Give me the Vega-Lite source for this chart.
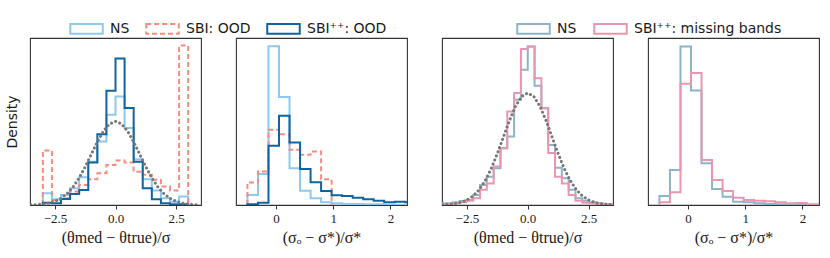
{
  "$schema": "https://vega.github.io/schema/vega-lite/v6.json",
  "padding": {"left": 4, "top": 10, "right": 6, "bottom": 4},
  "bounds": "flush",
  "spacing": 35,
  "config": {
    "view": {"stroke": "#333333", "strokeWidth": 1.1},
    "axis": {"grid": false, "domain": false, "labelFontSize": 13, "labelColor": "#1a1a1a", "titleFontSize": 16, "titleFontWeight": "normal", "titleColor": "#1a1a1a", "tickColor": "#333333", "tickSize": 4, "tickWidth": 1, "labelPadding": 3, "titlePadding": 4}
  },
  "datasets": {
    "norm": [
      {"x": -3.5, "y": 0.0009}, {"x": -3.25, "y": 0.0020}, {"x": -3.0, "y": 0.0044}, {"x": -2.75, "y": 0.0091},
      {"x": -2.5, "y": 0.0175}, {"x": -2.25, "y": 0.0317}, {"x": -2.0, "y": 0.0540}, {"x": -1.75, "y": 0.0863},
      {"x": -1.5, "y": 0.1295}, {"x": -1.25, "y": 0.1826}, {"x": -1.0, "y": 0.2420}, {"x": -0.75, "y": 0.3011},
      {"x": -0.5, "y": 0.3521}, {"x": -0.25, "y": 0.3867}, {"x": 0.0, "y": 0.3989}, {"x": 0.25, "y": 0.3867},
      {"x": 0.5, "y": 0.3521}, {"x": 0.75, "y": 0.3011}, {"x": 1.0, "y": 0.2420}, {"x": 1.25, "y": 0.1826},
      {"x": 1.5, "y": 0.1295}, {"x": 1.75, "y": 0.0863}, {"x": 2.0, "y": 0.0540}, {"x": 2.25, "y": 0.0317},
      {"x": 2.5, "y": 0.0175}, {"x": 2.75, "y": 0.0091}, {"x": 3.0, "y": 0.0044}, {"x": 3.25, "y": 0.0020}, {"x": 3.5, "y": 0.0009}
    ],
    "p1": [
      {"s": "NS", "x": -3, "y": 0}, {"s": "NS", "x": -3, "y": 0.056}, {"s": "NS", "x": -2.625, "y": 0.027}, {"s": "NS", "x": -2.25, "y": 0.048},
      {"s": "NS", "x": -1.875, "y": 0.080}, {"s": "NS", "x": -1.5, "y": 0.132}, {"s": "NS", "x": -1.125, "y": 0.207}, {"s": "NS", "x": -0.75, "y": 0.303},
      {"s": "NS", "x": -0.375, "y": 0.431}, {"s": "NS", "x": 0, "y": 0.518}, {"s": "NS", "x": 0.375, "y": 0.367}, {"s": "NS", "x": 0.75, "y": 0.218},
      {"s": "NS", "x": 1.125, "y": 0.123}, {"s": "NS", "x": 1.5, "y": 0.069}, {"s": "NS", "x": 1.875, "y": 0.032}, {"s": "NS", "x": 2.25, "y": 0.016},
      {"s": "NS", "x": 2.625, "y": 0.040}, {"s": "NS", "x": 3, "y": 0},
      {"s": "SBI: OOD", "x": -3, "y": 0}, {"s": "SBI: OOD", "x": -3, "y": 0.260}, {"s": "SBI: OOD", "x": -2.625, "y": 0.024}, {"s": "SBI: OOD", "x": -2.25, "y": 0.032},
      {"s": "SBI: OOD", "x": -1.875, "y": 0.064}, {"s": "SBI: OOD", "x": -1.5, "y": 0.096}, {"s": "SBI: OOD", "x": -1.125, "y": 0.123}, {"s": "SBI: OOD", "x": -0.75, "y": 0.152},
      {"s": "SBI: OOD", "x": -0.375, "y": 0.191}, {"s": "SBI: OOD", "x": 0, "y": 0.212}, {"s": "SBI: OOD", "x": 0.375, "y": 0.203}, {"s": "SBI: OOD", "x": 0.75, "y": 0.159},
      {"s": "SBI: OOD", "x": 1.125, "y": 0.144}, {"s": "SBI: OOD", "x": 1.5, "y": 0.120}, {"s": "SBI: OOD", "x": 1.875, "y": 0.088}, {"s": "SBI: OOD", "x": 2.25, "y": 0.069},
      {"s": "SBI: OOD", "x": 2.625, "y": 0.761}, {"s": "SBI: OOD", "x": 3, "y": 0},
      {"s": "SBI⁺⁺: OOD", "x": -3, "y": 0}, {"s": "SBI⁺⁺: OOD", "x": -3, "y": 0.011}, {"s": "SBI⁺⁺: OOD", "x": -2.625, "y": 0.008}, {"s": "SBI⁺⁺: OOD", "x": -2.25, "y": 0.029},
      {"s": "SBI⁺⁺: OOD", "x": -1.875, "y": 0.053}, {"s": "SBI⁺⁺: OOD", "x": -1.5, "y": 0.072}, {"s": "SBI⁺⁺: OOD", "x": -1.125, "y": 0.203}, {"s": "SBI⁺⁺: OOD", "x": -0.75, "y": 0.338},
      {"s": "SBI⁺⁺: OOD", "x": -0.375, "y": 0.545}, {"s": "SBI⁺⁺: OOD", "x": 0, "y": 0.699}, {"s": "SBI⁺⁺: OOD", "x": 0.375, "y": 0.463}, {"s": "SBI⁺⁺: OOD", "x": 0.75, "y": 0.207},
      {"s": "SBI⁺⁺: OOD", "x": 1.125, "y": 0.080}, {"s": "SBI⁺⁺: OOD", "x": 1.5, "y": 0.027}, {"s": "SBI⁺⁺: OOD", "x": 1.875, "y": 0.008}, {"s": "SBI⁺⁺: OOD", "x": 2.25, "y": 0.003},
      {"s": "SBI⁺⁺: OOD", "x": 2.625, "y": 0.003}, {"s": "SBI⁺⁺: OOD", "x": 3, "y": 0}
    ],
    "p2": [
      {"s": "NS", "x": -0.5, "y": 0}, {"s": "NS", "x": -0.5, "y": 0.145}, {"s": "NS", "x": -0.316, "y": 0.448}, {"s": "NS", "x": -0.132, "y": 2.288},
      {"s": "NS", "x": 0.052, "y": 1.556}, {"s": "NS", "x": 0.236, "y": 0.530}, {"s": "NS", "x": 0.42, "y": 0.207}, {"s": "NS", "x": 0.604, "y": 0.096},
      {"s": "NS", "x": 0.788, "y": 0.039}, {"s": "NS", "x": 0.972, "y": 0.024}, {"s": "NS", "x": 1.156, "y": 0.014}, {"s": "NS", "x": 1.34, "y": 0.014},
      {"s": "NS", "x": 1.524, "y": 0.010}, {"s": "NS", "x": 1.708, "y": 0.010}, {"s": "NS", "x": 1.892, "y": 0.005}, {"s": "NS", "x": 2.076, "y": 0.005},
      {"s": "NS", "x": 2.26, "y": 0.005}, {"s": "NS", "x": 2.444, "y": 0},
      {"s": "SBI: OOD", "x": -0.5, "y": 0}, {"s": "SBI: OOD", "x": -0.5, "y": 0.323}, {"s": "SBI: OOD", "x": -0.316, "y": 0.482}, {"s": "SBI: OOD", "x": -0.132, "y": 1.084},
      {"s": "SBI: OOD", "x": 0.052, "y": 1.021}, {"s": "SBI: OOD", "x": 0.236, "y": 0.795}, {"s": "SBI: OOD", "x": 0.42, "y": 0.723}, {"s": "SBI: OOD", "x": 0.604, "y": 0.771},
      {"s": "SBI: OOD", "x": 0.788, "y": 0.371}, {"s": "SBI: OOD", "x": 0.972, "y": 0},
      {"s": "SBI⁺⁺: OOD", "x": -0.5, "y": 0}, {"s": "SBI⁺⁺: OOD", "x": -0.5, "y": 0.010}, {"s": "SBI⁺⁺: OOD", "x": -0.316, "y": 0.034}, {"s": "SBI⁺⁺: OOD", "x": -0.132, "y": 0.853},
      {"s": "SBI⁺⁺: OOD", "x": 0.052, "y": 1.286}, {"s": "SBI⁺⁺: OOD", "x": 0.236, "y": 0.901}, {"s": "SBI⁺⁺: OOD", "x": 0.42, "y": 0.520}, {"s": "SBI⁺⁺: OOD", "x": 0.604, "y": 0.328},
      {"s": "SBI⁺⁺: OOD", "x": 0.788, "y": 0.202}, {"s": "SBI⁺⁺: OOD", "x": 0.972, "y": 0.140}, {"s": "SBI⁺⁺: OOD", "x": 1.156, "y": 0.130}, {"s": "SBI⁺⁺: OOD", "x": 1.34, "y": 0.106},
      {"s": "SBI⁺⁺: OOD", "x": 1.524, "y": 0.082}, {"s": "SBI⁺⁺: OOD", "x": 1.708, "y": 0.063}, {"s": "SBI⁺⁺: OOD", "x": 1.892, "y": 0.039}, {"s": "SBI⁺⁺: OOD", "x": 2.076, "y": 0.048},
      {"s": "SBI⁺⁺: OOD", "x": 2.26, "y": 0.039}, {"s": "SBI⁺⁺: OOD", "x": 2.444, "y": 0}
    ],
    "p3": [
      {"s": "NS", "x": -3.64, "y": 0}, {"s": "NS", "x": -3.64, "y": 0.006}, {"s": "NS", "x": -3.36, "y": 0.006}, {"s": "NS", "x": -3.08, "y": 0.010},
      {"s": "NS", "x": -2.80, "y": 0.014}, {"s": "NS", "x": -2.52, "y": 0.018}, {"s": "NS", "x": -2.24, "y": 0.036}, {"s": "NS", "x": -1.96, "y": 0.071},
      {"s": "NS", "x": -1.68, "y": 0.101}, {"s": "NS", "x": -1.40, "y": 0.131}, {"s": "NS", "x": -1.12, "y": 0.202}, {"s": "NS", "x": -0.84, "y": 0.244},
      {"s": "NS", "x": -0.56, "y": 0.375}, {"s": "NS", "x": -0.28, "y": 0.482}, {"s": "NS", "x": 0, "y": 0.565}, {"s": "NS", "x": 0.28, "y": 0.425},
      {"s": "NS", "x": 0.56, "y": 0.345}, {"s": "NS", "x": 0.84, "y": 0.214}, {"s": "NS", "x": 1.12, "y": 0.133}, {"s": "NS", "x": 1.40, "y": 0.095},
      {"s": "NS", "x": 1.68, "y": 0.054}, {"s": "NS", "x": 1.96, "y": 0.024}, {"s": "NS", "x": 2.24, "y": 0.015}, {"s": "NS", "x": 2.52, "y": 0.010},
      {"s": "NS", "x": 2.80, "y": 0.006}, {"s": "NS", "x": 3.08, "y": 0.004}, {"s": "NS", "x": 3.36, "y": 0.002}, {"s": "NS", "x": 3.64, "y": 0},
      {"s": "SBI⁺⁺: missing bands", "x": -3.64, "y": 0}, {"s": "SBI⁺⁺: missing bands", "x": -3.64, "y": 0.002}, {"s": "SBI⁺⁺: missing bands", "x": -3.36, "y": 0.004}, {"s": "SBI⁺⁺: missing bands", "x": -3.08, "y": 0.006},
      {"s": "SBI⁺⁺: missing bands", "x": -2.80, "y": 0.010}, {"s": "SBI⁺⁺: missing bands", "x": -2.52, "y": 0.015}, {"s": "SBI⁺⁺: missing bands", "x": -2.24, "y": 0.024}, {"s": "SBI⁺⁺: missing bands", "x": -1.96, "y": 0.054},
      {"s": "SBI⁺⁺: missing bands", "x": -1.68, "y": 0.077}, {"s": "SBI⁺⁺: missing bands", "x": -1.40, "y": 0.137}, {"s": "SBI⁺⁺: missing bands", "x": -1.12, "y": 0.202}, {"s": "SBI⁺⁺: missing bands", "x": -0.84, "y": 0.333},
      {"s": "SBI⁺⁺: missing bands", "x": -0.56, "y": 0.399}, {"s": "SBI⁺⁺: missing bands", "x": -0.28, "y": 0.556}, {"s": "SBI⁺⁺: missing bands", "x": 0, "y": 0.565}, {"s": "SBI⁺⁺: missing bands", "x": 0.28, "y": 0.452},
      {"s": "SBI⁺⁺: missing bands", "x": 0.56, "y": 0.345}, {"s": "SBI⁺⁺: missing bands", "x": 0.84, "y": 0.185}, {"s": "SBI⁺⁺: missing bands", "x": 1.12, "y": 0.101}, {"s": "SBI⁺⁺: missing bands", "x": 1.40, "y": 0.077},
      {"s": "SBI⁺⁺: missing bands", "x": 1.68, "y": 0.036}, {"s": "SBI⁺⁺: missing bands", "x": 1.96, "y": 0.015}, {"s": "SBI⁺⁺: missing bands", "x": 2.24, "y": 0.008}, {"s": "SBI⁺⁺: missing bands", "x": 2.52, "y": 0.006},
      {"s": "SBI⁺⁺: missing bands", "x": 2.80, "y": 0.004}, {"s": "SBI⁺⁺: missing bands", "x": 3.08, "y": 0.002}, {"s": "SBI⁺⁺: missing bands", "x": 3.36, "y": 0.001}, {"s": "SBI⁺⁺: missing bands", "x": 3.64, "y": 0}
    ],
    "p4": [
      {"s": "NS", "x": -0.5, "y": 0}, {"s": "NS", "x": -0.5, "y": 0.126}, {"s": "NS", "x": -0.316, "y": 0.488}, {"s": "NS", "x": -0.132, "y": 2.209},
      {"s": "NS", "x": 0.052, "y": 1.595}, {"s": "NS", "x": 0.236, "y": 0.581}, {"s": "NS", "x": 0.42, "y": 0.223}, {"s": "NS", "x": 0.604, "y": 0.116},
      {"s": "NS", "x": 0.788, "y": 0.047}, {"s": "NS", "x": 0.972, "y": 0.037}, {"s": "NS", "x": 1.156, "y": 0.023}, {"s": "NS", "x": 1.34, "y": 0.014},
      {"s": "NS", "x": 1.524, "y": 0.009}, {"s": "NS", "x": 1.708, "y": 0.009}, {"s": "NS", "x": 1.892, "y": 0.009}, {"s": "NS", "x": 2.076, "y": 0.005},
      {"s": "NS", "x": 2.26, "y": 0.005}, {"s": "NS", "x": 2.444, "y": 0},
      {"s": "SBI⁺⁺: missing bands", "x": -0.5, "y": 0}, {"s": "SBI⁺⁺: missing bands", "x": -0.5, "y": 0.037}, {"s": "SBI⁺⁺: missing bands", "x": -0.316, "y": 0.177}, {"s": "SBI⁺⁺: missing bands", "x": -0.132, "y": 1.688},
      {"s": "SBI⁺⁺: missing bands", "x": 0.052, "y": 1.837}, {"s": "SBI⁺⁺: missing bands", "x": 0.236, "y": 0.628}, {"s": "SBI⁺⁺: missing bands", "x": 0.42, "y": 0.349}, {"s": "SBI⁺⁺: missing bands", "x": 0.604, "y": 0.195},
      {"s": "SBI⁺⁺: missing bands", "x": 0.788, "y": 0.102}, {"s": "SBI⁺⁺: missing bands", "x": 0.972, "y": 0.070}, {"s": "SBI⁺⁺: missing bands", "x": 1.156, "y": 0.060}, {"s": "SBI⁺⁺: missing bands", "x": 1.34, "y": 0.051},
      {"s": "SBI⁺⁺: missing bands", "x": 1.524, "y": 0.037}, {"s": "SBI⁺⁺: missing bands", "x": 1.708, "y": 0.023}, {"s": "SBI⁺⁺: missing bands", "x": 1.892, "y": 0.028}, {"s": "SBI⁺⁺: missing bands", "x": 2.076, "y": 0.009},
      {"s": "SBI⁺⁺: missing bands", "x": 2.26, "y": 0.009}, {"s": "SBI⁺⁺: missing bands", "x": 2.444, "y": 0}
    ]
  },
  "resolve": {
    "scale": {"x": "independent", "y": "independent", "color": "independent", "strokeDash": "independent"},
    "legend": {"color": "independent", "strokeDash": "independent"}
  },
  "hconcat": [
    {
      "width": 171, "height": 167,
      "layer": [
        {
          "data": {"name": "p1"},
          "mark": {"type": "line", "interpolate": "step-after", "strokeWidth": 2, "clip": true},
          "encoding": {
            "x": {"field": "x", "type": "quantitative", "scale": {"domain": [-3.53, 3.53], "nice": false, "zero": false},
                  "axis": {"values": [-2.5, 0, 2.5], "format": ".1f", "title": "(θmed − θtrue)/σ", "labelFont": "Liberation Serif", "titleFont": "Liberation Serif"}},
            "y": {"field": "y", "type": "quantitative", "scale": {"domain": [0, 0.797], "nice": false},
                  "axis": {"title": "Density", "labels": false, "ticks": false, "titleFont": "DejaVu Sans", "titleFontSize": 14, "titlePadding": 11}},
            "color": {"field": "s", "type": "nominal",
                      "scale": {"domain": ["NS", "SBI: OOD", "SBI⁺⁺: OOD"], "range": ["#8cc8f0", "#f58c82", "#0f64a0"]},
                      "legend": {"title": null, "orient": "none", "legendX": 39, "legendY": -27, "direction": "horizontal", "symbolType": "M-1,-0.3H1V0.3H-1Z", "symbolSize": 1056, "symbolStrokeWidth": 2, "symbolFillColor": "transparent", "labelFont": "DejaVu Sans", "labelFontSize": 14, "labelColor": "#1a1a1a", "labelOffset": 6, "columnPadding": 12}},
            "strokeDash": {"field": "s", "type": "nominal",
                      "scale": {"domain": ["NS", "SBI: OOD", "SBI⁺⁺: OOD"], "range": [[1, 0], [5, 3], [1, 0]]},
                      "legend": {"title": null, "orient": "none", "legendX": 39, "legendY": -27, "direction": "horizontal", "symbolType": "M-1,-0.3H1V0.3H-1Z", "symbolSize": 1056, "symbolStrokeWidth": 2, "symbolFillColor": "transparent", "labelFont": "DejaVu Sans", "labelFontSize": 14, "labelColor": "#1a1a1a", "labelOffset": 6, "columnPadding": 12}},
            "order": {"value": null}
          }
        },
        {
          "data": {"name": "norm"},
          "mark": {"type": "line", "color": "#777777", "strokeWidth": 3, "strokeDash": [0.1, 4.3], "strokeCap": "round", "clip": true},
          "encoding": {
            "x": {"field": "x", "type": "quantitative", "scale": {"domain": [-3.53, 3.53], "nice": false, "zero": false}},
            "y": {"field": "y", "type": "quantitative", "scale": {"domain": [0, 0.797], "nice": false}}
          }
        }
      ]
    },
    {
      "width": 171, "height": 167,
      "data": {"name": "p2"},
      "mark": {"type": "line", "interpolate": "step-after", "strokeWidth": 2, "clip": true},
      "encoding": {
        "x": {"field": "x", "type": "quantitative", "scale": {"domain": [-0.7, 2.29], "nice": false, "zero": false},
              "axis": {"values": [0, 1, 2], "format": "d", "title": "(σₒ − σ*)/σ*", "labelFont": "Liberation Serif", "titleFont": "Liberation Serif"}},
        "y": {"field": "y", "type": "quantitative", "scale": {"domain": [0, 2.408], "nice": false}, "axis": null},
        "color": {"field": "s", "type": "nominal",
                  "scale": {"domain": ["NS", "SBI: OOD", "SBI⁺⁺: OOD"], "range": ["#8cc8f0", "#f58c82", "#0f64a0"]}, "legend": null},
        "strokeDash": {"field": "s", "type": "nominal",
                  "scale": {"domain": ["NS", "SBI: OOD", "SBI⁺⁺: OOD"], "range": [[1, 0], [5, 3], [1, 0]]}, "legend": null},
        "order": {"value": null}
      }
    },
    {
      "width": 171, "height": 167,
      "layer": [
        {
          "data": {"name": "p3"},
          "mark": {"type": "line", "interpolate": "step-after", "strokeWidth": 2, "clip": true},
          "encoding": {
            "x": {"field": "x", "type": "quantitative", "scale": {"domain": [-3.52, 3.5], "nice": false, "zero": false},
                  "axis": {"values": [-2.5, 0, 2.5], "format": ".1f", "title": "(θmed − θtrue)/σ", "labelFont": "Liberation Serif", "titleFont": "Liberation Serif"}},
            "y": {"field": "y", "type": "quantitative", "scale": {"domain": [0, 0.595], "nice": false}, "axis": null},
            "color": {"field": "s", "type": "nominal",
                      "scale": {"domain": ["NS", "SBI⁺⁺: missing bands"], "range": ["#8cb4c8", "#eb96af"]},
                      "legend": {"title": null, "orient": "none", "legendX": 74, "legendY": -27, "direction": "horizontal", "symbolType": "M-1,-0.3H1V0.3H-1Z", "symbolSize": 1056, "symbolStrokeWidth": 2, "symbolFillColor": "transparent", "labelFont": "DejaVu Sans", "labelFontSize": 14, "labelColor": "#1a1a1a", "labelOffset": 6, "columnPadding": 13}},
            "order": {"value": null}
          }
        },
        {
          "data": {"name": "norm"},
          "mark": {"type": "line", "color": "#777777", "strokeWidth": 3, "strokeDash": [0.1, 4.3], "strokeCap": "round", "clip": true},
          "encoding": {
            "x": {"field": "x", "type": "quantitative", "scale": {"domain": [-3.52, 3.5], "nice": false, "zero": false}},
            "y": {"field": "y", "type": "quantitative", "scale": {"domain": [0, 0.595], "nice": false}}
          }
        }
      ]
    },
    {
      "width": 171, "height": 167,
      "data": {"name": "p4"},
      "mark": {"type": "line", "interpolate": "step-after", "strokeWidth": 2, "clip": true},
      "encoding": {
        "x": {"field": "x", "type": "quantitative", "scale": {"domain": [-0.7, 2.29], "nice": false, "zero": false},
              "axis": {"values": [0, 1, 2], "format": "d", "title": "(σₒ − σ*)/σ*", "labelFont": "Liberation Serif", "titleFont": "Liberation Serif"}},
        "y": {"field": "y", "type": "quantitative", "scale": {"domain": [0, 2.326], "nice": false}, "axis": null},
        "color": {"field": "s", "type": "nominal",
                  "scale": {"domain": ["NS", "SBI⁺⁺: missing bands"], "range": ["#8cb4c8", "#eb96af"]}, "legend": null},
        "order": {"value": null}
      }
    }
  ]
}
